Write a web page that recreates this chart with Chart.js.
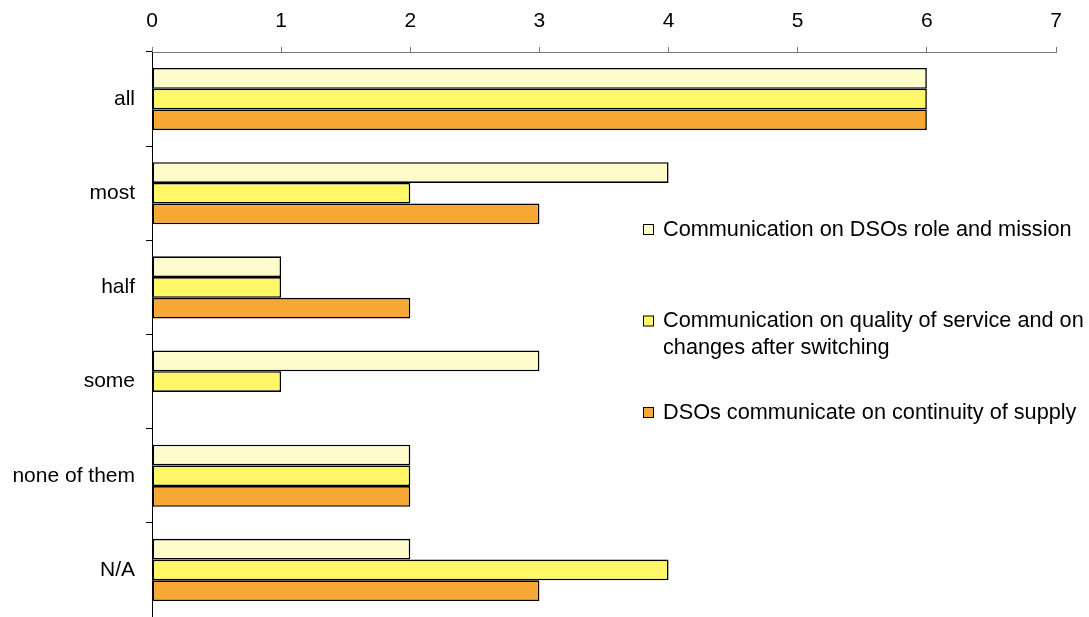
<!DOCTYPE html>
<html>
<head>
<meta charset="utf-8">
<script src="https://cdn.jsdelivr.net/npm/chart.js@4/dist/chart.umd.min.js"></script>
<style>
  html, body { margin: 0; padding: 0; background: #fff; }
  #wrap { width: 1089px; height: 617px; }
</style>
</head>
<body>
<div id="wrap"><canvas id="grafico" width="1089" height="617"></canvas></div>
<script>
const categorias = ["all", "most", "half", "some", "none of them", "N/A"];
const serieNombres = [
    ["Communication on DSOs role and mission"],
    ["Communication on quality of service and on", "changes after switching"],
    ["DSOs communicate on continuity of supply"]
];
const rolMision = [6, 4, 1, 3, 2, 2];
const calidadServicio = [6, 2, 1, 1, 2, 4];
const continuidad = [6, 3, 2, 0, 2, 3];
const ticksX = [0, 1, 2, 3, 4, 5, 6, 7];
const colores = ["#fffccc", "#fff766", "#f7a834"];

const fuente = { family: "'Liberation Sans', Arial, sans-serif", size: 21 };
const fuenteLeyenda = 21.7;

// legend drawn over the plot area, on the right
const leyenda = {
    id: "leyenda",
    afterDraw(chart) {
        const ctx = chart.ctx;
        ctx.save();
        ctx.font = `${fuenteLeyenda}px ${fuente.family}`;
        ctx.textBaseline = "middle";
        chart.data.datasets.forEach((ds, i) => {
            const y = 230 + i * 91.5;
            ctx.fillStyle = ds.backgroundColor;
            ctx.fillRect(643.5, y - 5.5, 10, 10);
            ctx.strokeStyle = "#000";
            ctx.lineWidth = 1;
            ctx.strokeRect(643.5, y - 5.5, 10, 10);
            ctx.fillStyle = "#000";
            serieNombres[i].forEach((linea, j) => {
                ctx.fillText(linea, 663, y + j * 27);
            });
        });
        ctx.restore();
    }
};

const ctx = document.getElementById("grafico").getContext("2d");
new Chart(ctx, {
    type: "bar",
    data: {
        labels: categorias,
        datasets: [rolMision, calidadServicio, continuidad].map((valores, i) => ({
            label: serieNombres[i].join(" "),
            data: valores,
            backgroundColor: colores[i],
            borderColor: "#000",
            borderWidth: 1.6,
            borderSkipped: false,
            categoryPercentage: 0.66,
            barPercentage: 1
        }))
    },
    options: {
        indexAxis: "y",
        responsive: false,
        animation: false,
        layout: { padding: { top: 0, right: 33, bottom: 0, left: 0 } },
        plugins: {
            legend: { display: false },
            tooltip: { enabled: false }
        },
        scales: {
            x: {
                position: "top",
                min: 0,
                max: 7,
                afterBuildTicks: (scale) => { scale.ticks = ticksX.map(v => ({ value: v })); },
                afterFit: (scale) => { scale.height = 52; },
                grid: { drawOnChartArea: false, drawTicks: true, tickLength: 5, color: "#777" },
                border: { display: true, color: "#777", width: 1 },
                ticks: { color: "#000", font: fuente, padding: 13, maxRotation: 0 }
            },
            y: {
                offset: true,
                afterFit: (scale) => {
                    scale.width = 152;
                    scale.paddingTop = 0;
                    scale.paddingBottom = 0;
                },
                grid: { offset: true, drawOnChartArea: false, drawTicks: true, tickLength: 6, color: "#000" },
                border: { display: true, color: "#000", width: 1 },
                ticks: { color: "#000", font: fuente, padding: 11 }
            }
        }
    },
    plugins: [leyenda]
});
</script>
</body>
</html>
